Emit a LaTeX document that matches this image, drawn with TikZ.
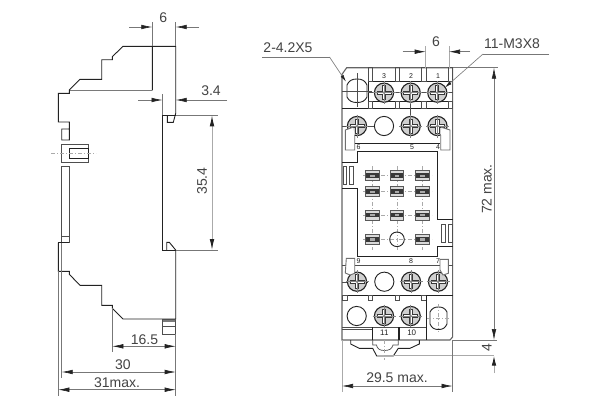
\documentclass[tikz,border=0pt]{standalone}
\usepackage{fontspec}
\setmainfont{Liberation Sans}
\usetikzlibrary{arrows.meta}
\definecolor{ink}{HTML}{222222}
\definecolor{dimc}{HTML}{777777}
\definecolor{softc}{HTML}{AAAAAA}
\tikzset{
  part/.style={draw=ink,line width=0.9pt,line join=miter},
  thin part/.style={draw=ink!80,line width=0.7pt},
  dimline/.style={draw=dimc,line width=0.6pt},
  softline/.style={draw=softc,line width=1pt},
  dimarrow/.style={draw=dimc,line width=0.6pt,-{Latex[length=11pt,width=4.6pt,color=ink]}},
  dimboth/.style={draw=dimc,line width=0.6pt,{Latex[length=11pt,width=4.6pt,color=ink]}-{Latex[length=11pt,width=4.6pt,color=ink]}},
  dimtext/.style={font=\fontsize{14}{16}\selectfont,text=ink!85,inner sep=0pt},
  tinytext/.style={font=\fontsize{7}{8}\selectfont,text=ink,inner sep=0pt},
  center line/.style={draw=softc,line width=0.7pt,dash pattern=on 4pt off 2pt on 1pt off 2pt},
  hook/.style={draw=ink!65,line width=0.9pt,fill=white},
}
\newcommand{\myscrew}[2]{%
  \fill[softc!55] (#1,#2) circle (9.6);
  \draw[part,line width=1.1pt] (#1,#2) circle (9.6);
  \draw[draw=ink!90,line width=4.2pt] (#1-7.5,#2) -- (#1+7.5,#2) (#1,#2-7.5) -- (#1,#2+7.5);
  \draw[draw=white,line width=2.2pt] (#1-6.5,#2) -- (#1+6.5,#2) (#1,#2-6.5) -- (#1,#2+6.5);
  \fill[softc] (#1,#2) circle (1.6);
  \draw[draw=ink!55,line width=0.6pt] (#1-11.5,#2) -- (#1+11.5,#2) (#1,#2-11.5) -- (#1,#2+11.5);
}
\newcommand{\mysocket}[2]{%
  \fill[softc!45] (#1-6.7,#2-5) rectangle (#1+6.7,#2+5);
  \fill[ink!90] (#1-6.7,#2-2.4) rectangle (#1+6.7,#2+2.4);
  \fill[softc] (#1-2.4,#2-1.2) rectangle (#1+2.4,#2+1.2);
  \draw[draw=ink!75,line width=0.7pt] (#1-6.7,#2-5) rectangle (#1+6.7,#2+5);
}
\begin{document}
\begin{tikzpicture}[x=1pt,y=-1pt]
\useasboundingbox (0,0) rectangle (600,410);
\fill[white] (0,0) rectangle (600,410);

%% ---------- side view ----------
\draw[part] (58.3,242.7) -- (58.3,271.3) -- (69.3,271.3) -- (69.3,274.3) -- (80,285.3) -- (101.7,285.3) -- (101.7,305.3) -- (112.3,305.3) -- (112.3,308.3) -- (123,319) -- (175.7,319) -- (175.7,250) -- (169.3,242.3) -- (166.7,242.3) -- (166.7,250);
\draw[part] (175.7,250) -- (162.3,250) -- (162.3,115.3) -- (175.7,115.3);
\draw[part] (152.3,90.3) -- (152.3,46.3) -- (175.7,46.3) -- (175.7,113.3) -- (173.3,122.3) -- (167.3,122.3) -- (167.3,115.3);
\draw[part] (152.3,46.3) -- (123,46.3) -- (112.3,56.7) -- (112.3,59.7) -- (101.7,59.7) -- (101.7,79.3) -- (80,79.3) -- (69.3,90) -- (69.3,93.3) -- (58.3,93.3) -- (58.3,122) -- (69.3,122) -- (69.3,140) -- (61.7,140) -- (61.7,129) -- (69.3,129);
\draw[draw=ink!60,line width=1.2pt] (70,90.3) -- (152.3,90.3);
\draw[thin part] (61.7,144.3) rectangle (88.7,162.3);
\draw[part] (69.3,148.3) rectangle (88.7,158.3);
\draw[center line] (51,153.3) -- (96,153.3);
\draw[thin part] (61.7,166) rectangle (69.3,242.7);
\draw[thin part] (61.7,236) -- (69.3,236);
\draw[part] (58.3,242.7) -- (69.3,242.7);
\draw[draw=ink!60,line width=2.4pt] (162.7,320.5) -- (175.7,320.5);
\draw[thin part] (162.7,319) rectangle (175.7,334.3);
\draw[thin part] (162.7,326.7) -- (175.7,326.7);

%% dimensions of the side view
\draw[dimline] (152.3,22) -- (152.3,46) (175.7,22) -- (175.7,46);
\draw[dimarrow] (129,27) -- (152.3,27);
\draw[dimarrow] (199,27) -- (175.7,27);
\node[dimtext] (d6a) at (163.3,18) {6};
\draw[dimline] (162.5,94) -- (162.5,115);
\draw[dimarrow] (138,100) -- (162.5,100);
\draw[dimarrow] (227,100) -- (175.7,100);
\node[dimtext] (d34) at (211,91) {3.4};
\draw[dimline] (175.7,115.3) -- (218,115.3) (175.7,250) -- (218,250);
\draw[dimboth,draw=softc,line width=0.9pt] (212,115.3) -- (212,250);
\node[dimtext,rotate=90] (d354) at (202,181) {35.4};
\draw[dimline] (112.3,308) -- (112.3,351.7);
\draw[dimline] (61.7,243) -- (61.7,377.7);
\draw[dimline] (58.3,271) -- (58.3,395.7);
\draw[dimline] (175.7,334) -- (175.7,395.7);
\draw[dimboth] (112.3,346.3) -- (175.7,346.3);
\node[dimtext] (d165) at (144.5,339.5) {16.5};
\draw[dimboth] (61.7,372) -- (175.7,372);
\node[dimtext] (d30) at (123,365) {30};
\draw[dimboth] (58.3,389.7) -- (175.7,389.7);
\node[dimtext] (d31) at (117,383) {31max.};

%% ---------- front view ----------
\draw[part,line width=1.1pt,draw=ink!70] (342,74.3) -- (346.7,67.7) -- (452.6,67.7) -- (452.6,337) -- (450,340) -- (342,340) -- cycle;
% top block
\draw[part] (342,108.3) -- (452.6,108.3);
\draw[part] (368.3,81.5) -- (452.6,81.5) (368.3,101) -- (452.6,101);
\draw[part] (368.3,81.5) -- (368.3,108.3);
\foreach \xa in {368,395,421.7,448}{
  \draw[thin part] (\xa,67.7) rectangle (\xa+4.4,81.5);
  \draw[thin part] (\xa,101) rectangle (\xa+4.4,108.3);
}
\node[tinytext] (t3) at (384,76) {3};
\node[tinytext] (t2) at (411,76) {2};
\node[tinytext] (t1) at (438,76) {1};
% slot hole
\draw[part] (347,85) .. controls (349,80.5) and (352,79) .. (357,79) .. controls (362,79) and (365,80.5) .. (367,85) -- (367,97) .. controls (365,101) and (362,102.5) .. (357,102.5) .. controls (352,102.5) and (349,101) .. (347,97) -- cycle;
\draw[thin part] (342,91) -- (372,91) (357,73) -- (357,107);
\draw[thin part] (368,92.7) -- (452.6,92.7);
\draw[thin part] (410.7,92.7) -- (410.7,126);
\myscrew{384}{92.7}\myscrew{410.7}{92.7}\myscrew{437.3}{92.7}
% second row
\draw[thin part] (342,126) -- (357,126);
\myscrew{357}{126}\myscrew{410.7}{126}\myscrew{437.5}{126}
\draw[part] (384,126) circle (9.6);
\draw[thin part] (368,126) -- (374.4,126);
% hooks upper
\draw[hook] (353,127.3) -- (345.3,130) -- (345.3,150) -- (354.7,150) -- (354.7,135);
\draw[hook] (441.5,127.3) -- (450,130) -- (450,150) -- (440.7,150) -- (440.7,135);
\draw[part] (354.5,143.3) -- (440,143.3);
\draw[part] (357.3,151) -- (437.7,151);
\draw[part] (342,162.3) -- (357.3,162.3) -- (357.3,151);
\draw[part] (437.7,151) -- (437.7,219.3) -- (452.6,219.3);
\draw[part] (342,188.3) -- (357.3,188.3) -- (357.3,256.7) -- (437.3,256.7) -- (437.3,246.7) -- (452.6,246.7);
\node[tinytext] (t6) at (358.5,147.3) {6};
\node[tinytext] (t5) at (412,147.3) {5};
\node[tinytext] (t4) at (438,147.3) {4};
% slots
\draw[thin part] (343.3,166.7) rectangle (346.3,184.3) (349.3,166.7) rectangle (353.3,184.3);
\draw[thin part] (441.7,224) rectangle (445,242.3) (448.3,224) rectangle (452.3,242.3);
% socket grid
\foreach \xa in {372.3,397,422.3}{ \draw[center line] (\xa,166) -- (\xa,250); }
\foreach \ya in {175.7,191.7,215,239.3}{ \draw[center line] (363,\ya) -- (432,\ya); }
\foreach \xa in {372.3,397,422.3}{
  \foreach \ya in {175.7,191.7,215}{ \mysocket{\xa}{\ya} }
}
\mysocket{372.3}{239.3}\mysocket{422.3}{239.3}
\draw[part] (397,239.3) circle (7.3);
% lower strip
\draw[thin part] (354.7,265) -- (440,265);
\node[tinytext] (t9) at (358.5,261.5) {9};
\node[tinytext] (t8) at (411,261.5) {8};
\node[tinytext] (t7) at (438,261.5) {7};
\draw[thin part] (342,265) -- (346,265);
\draw[thin part] (448.3,265) -- (452.6,265);
% third row
\draw[thin part] (342,282) -- (368,282);
\myscrew{357}{281.7}\myscrew{411}{281.7}\myscrew{438}{281.7}
\draw[part] (384.3,281.7) circle (9.6);
% hooks lower
\draw[hook] (346.3,258.3) -- (354.7,258.3) -- (354.7,273.3) -- (350,275) -- (345.3,273) -- cycle;
\draw[hook] (440,259.3) -- (448.3,259.3) -- (448.3,273.3) -- (443,275) -- (440,270) -- cycle;
% bottom block
\draw[part] (342,295) -- (452.6,295);
\foreach \xa in {342.7,368.3,395,421.7}{ \draw[thin part] (\xa,295) rectangle (\xa+4.3,300); }
\draw[part] (426,295) -- (426,340);
\draw[part] (356.7,316) circle (9.6);
\myscrew{384}{316}\myscrew{410.7}{316}
\draw[thin part] (342,327) -- (426,327) (342,329) -- (372.7,329);
\draw[part] (372.7,327) -- (372.7,340) (398.3,327) -- (398.3,340) (399.6,327) -- (399.6,340);
\node[tinytext,font=\fontsize{8}{9}\selectfont] (t11) at (384.3,333.2) {11};
\node[tinytext,font=\fontsize{8}{9}\selectfont] (t10) at (411.7,333.2) {10};
\draw[part] (430,312) .. controls (432,308.5) and (434,307) .. (438.5,307) .. controls (443,307) and (445,308.5) .. (447,312) -- (447,324) .. controls (445,328) and (443,329.5) .. (438.5,329.5) .. controls (434,329.5) and (432,328) .. (430,324) -- cycle;
\draw[center line] (427,318) -- (450,318) (438.5,304) -- (438.5,332);
% foot
\draw[part] (350.7,340) -- (350.7,344) -- (359.3,348.3) -- (372.7,348.3) -- (376.7,356) -- (393.3,356) -- (398.3,348.3) -- (410,348.3) -- (419.3,344) -- (419.3,340);
\draw[thin part] (372.7,340) -- (372.7,345) -- (376.5,345) .. controls (377,349) and (380,350.5) .. (384.5,350.5) .. controls (389,350.5) and (392,349) .. (393,345) -- (398.3,345) -- (398.3,340);
\draw[center line] (384.5,340) -- (384.5,360);

%% dimensions of the front view
\draw[softline] (425.7,46) -- (425.7,68) (449,46) -- (449,68);
\draw[dimarrow] (402.7,51.7) -- (425.7,51.7);
\draw[dimarrow] (470,51.7) -- (449,51.7);
\node[dimtext] (d6b) at (436,42) {6};
\node[dimtext] (l11) at (512,44) {11-M3X8};
\coordinate (l11a) at (549,54);
\coordinate (l11b) at (483,54);
\coordinate (l11c) at (445,87.5);
\draw[dimline] (l11a) -- (l11b);
\draw[dimline,-{Latex[length=7pt,width=3.4pt,color=ink]}] (l11b) -- (l11c);
\node[dimtext] (l2) at (288,48) {2-4.2X5};
\coordinate (l2a) at (262,57);
\coordinate (l2b) at (329.5,57);
\coordinate (l2c) at (346,81.7);
\draw[dimline] (l2a) -- (l2b);
\draw[dimline,-{Latex[length=7pt,width=3.4pt,color=ink]}] (l2b) -- (l2c);

\draw[dimline] (452.6,67.7) -- (498,67.7) (452.6,340) -- (497,340);
\draw[softline] (385,355.7) -- (494,355.7);
\draw[dimboth] (494,67.7) -- (494,340);
\draw[-{Latex[length=10pt,width=4.6pt,color=ink]},draw=softc,line width=1pt] (494,373) -- (494,355.7);
\node[dimtext,rotate=90] (d72) at (486.7,189) {72 max.};
\node[dimtext,rotate=90] (d4) at (486.7,348) {4};

\draw[softline] (342,340) -- (342,392);
\draw[dimline] (452.6,340) -- (452.6,392);
\draw[dimboth] (342,386) -- (452.6,386);
\node[dimtext] (d295) at (397,377.5) {29.5 max.};
\end{tikzpicture}
\end{document}
